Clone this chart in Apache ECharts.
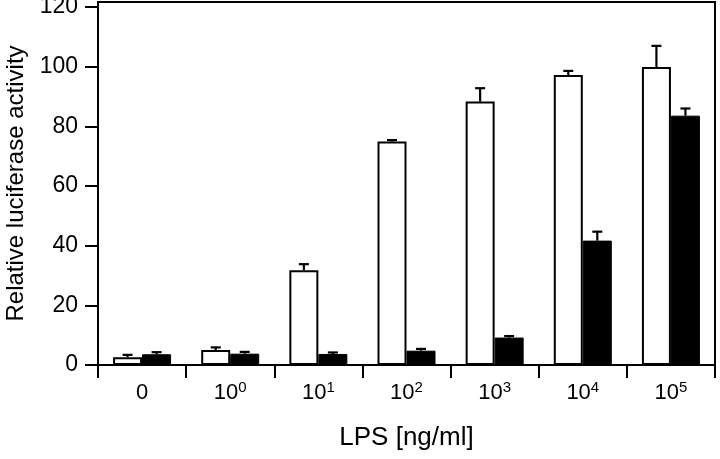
<!DOCTYPE html>
<html>
<head>
<meta charset="utf-8">
<script src="https://cdn.jsdelivr.net/npm/echarts@6/dist/echarts.min.js"></script>
<style>
html,body{margin:0;padding:0;background:#fff;}
#chart{width:720px;height:459px;}
</style>
</head>
<body>
<div id="chart"></div>
<script>
// ---- data ----
var categories = ['0', '10^0', '10^1', '10^2', '10^3', '10^4', '10^5'];
var whiteValues = [2.6, 5.0, 31.8, 74.9, 88.3, 97.2, 99.9];
var whiteErrors = [0.8, 0.9, 2.0, 0.5, 4.5, 1.4, 7.1];
var blackValues = [3.6, 3.8, 3.7, 4.8, 9.2, 41.7, 83.6];
var blackErrors = [0.7, 0.6, 0.5, 0.6, 0.5, 3.0, 2.4];
var yTicks = [0, 20, 40, 60, 80, 100, 120];
var xTitle = 'LPS [ng/ml]';
var yTitle = 'Relative luciferase activity';

// ---- styles ----
var FONT = '"Liberation Sans", Arial, Helvetica, sans-serif';
var BAR_W = 29;

function errData(vals, errs) {
  return vals.map(function (v, i) { return [i, v, v + errs[i]]; });
}

function errRender(side) {
  return function (params, api) {
    var base = api.coord([api.value(0), api.value(1)]);
    var top = api.coord([api.value(0), api.value(2)]);
    var x = base[0] + side * BAR_W / 2;
    var capHalf = 5;
    var style = { stroke: '#000', lineWidth: 2.2, fill: null };
    return {
      type: 'group',
      children: [
        { type: 'line', shape: { x1: x, y1: base[1], x2: x, y2: top[1] }, style: style },
        { type: 'line', shape: { x1: x - capHalf, y1: top[1], x2: x + capHalf, y2: top[1] }, style: style }
      ]
    };
  };
}

var chart = echarts.init(document.getElementById('chart'), null, { renderer: 'canvas' });

chart.setOption({
  animation: false,
  backgroundColor: '#fff',
  grid: {
    left: 98, right: 5, top: 2, bottom: 94,
    containLabel: false,
    outerBoundsMode: 'none',
    show: true, borderColor: '#000', borderWidth: 2, backgroundColor: 'transparent'
  },
  xAxis: {
    type: 'category',
    data: categories,
    boundaryGap: true,
    axisLine: { lineStyle: { color: '#000', width: 2 } },
    axisTick: { show: true, length: 13, interval: 0, lineStyle: { color: '#000', width: 2 } },
    axisLabel: {
      interval: 0,
      margin: 15,
      color: '#000',
      fontFamily: FONT,
      fontSize: 22,
      formatter: function (v) {
        var p = v.split('^');
        if (p.length === 1) return '{b|' + v + '}';
        return '{b|' + p[0] + '}{s|' + p[1] + '}';
      },
      rich: {
        b: { fontSize: 22, fontFamily: FONT, color: '#000', lineHeight: 26 },
        s: { fontSize: 15, fontFamily: FONT, color: '#000', verticalAlign: 'top', lineHeight: 15 }
      }
    },
    name: xTitle,
    nameLocation: 'middle',
    nameGap: 60,
    nameTextStyle: { color: '#000', fontFamily: FONT, fontSize: 26 }
  },
  yAxis: {
    type: 'value',
    min: 0,
    max: 121.7,
    splitLine: { show: false },
    axisLine: { show: true, lineStyle: { color: '#000', width: 2 } },
    axisTick: { show: true, length: 13, lineStyle: { color: '#000', width: 2 }, customValues: yTicks },
    axisLabel: { margin: 20, color: '#000', fontFamily: FONT, fontSize: 23, customValues: yTicks },
    name: yTitle,
    nameLocation: 'middle',
    nameGap: 68,
    nameTextStyle: { color: '#000', fontFamily: FONT, fontSize: 24 }
  },
  series: [
    {
      type: 'bar',
      data: whiteValues,
      barWidth: BAR_W,
      barGap: '0%',
      itemStyle: { color: '#fff', borderColor: '#000', borderWidth: 2 },
      z: 3
    },
    {
      type: 'bar',
      data: blackValues,
      barWidth: BAR_W,
      barGap: '0%',
      itemStyle: { color: '#000', borderColor: '#000', borderWidth: 1 },
      z: 3
    },
    {
      type: 'custom',
      data: errData(whiteValues, whiteErrors),
      renderItem: errRender(-1),
      encode: { x: 0, y: 2 },
      z: 4
    },
    {
      type: 'custom',
      data: errData(blackValues, blackErrors),
      renderItem: errRender(1),
      encode: { x: 0, y: 2 },
      z: 4
    }
  ]
});
</script>
</body>
</html>
